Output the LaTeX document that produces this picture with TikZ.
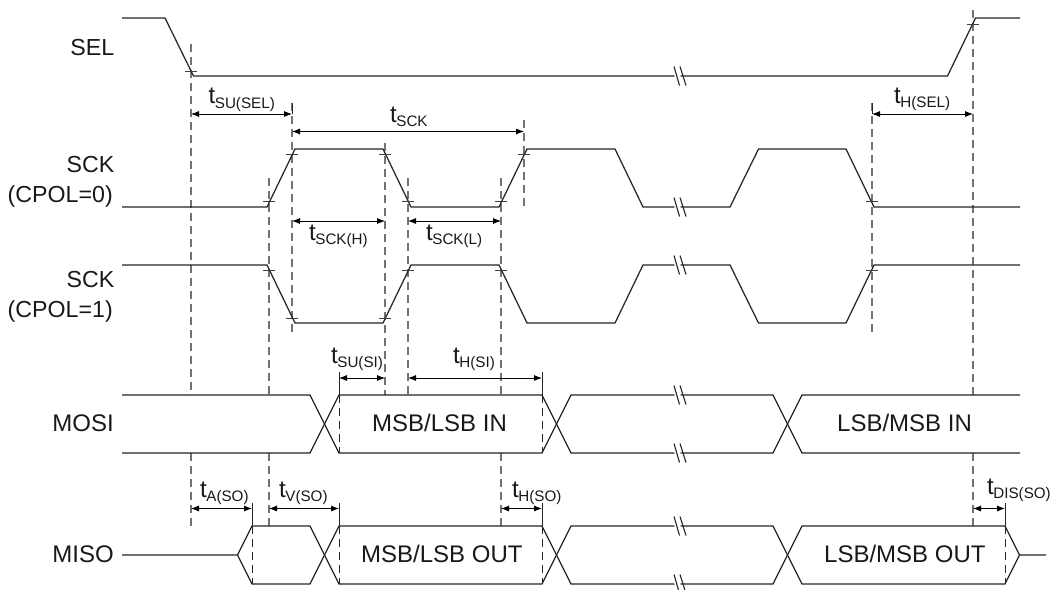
\documentclass[tikz,border=0pt]{standalone}
\usepackage{fontspec}
\setmainfont{Liberation Sans}
\usetikzlibrary{arrows.meta}
\newcommand{\tsub}[1]{t\kern-0.5pt{\fontsize{15.2}{15.2}\selectfont\raisebox{-4.5pt}{#1}}}
\tikzset{
  sig/.style={line width=1.25pt,color=black!85,line join=miter},
  guide/.style={line width=1.1pt,color=black!55,dash pattern=on 8pt off 5pt},
  edgeguide/.style={line width=0.9pt,color=black!85,dash pattern=on 8pt off 5pt},
  thintick/.style={line width=0.7pt,color=black!75},
  dimline/.style={line width=0.8pt,black,{Latex[length=8pt,width=6pt]}-{Latex[length=8pt,width=6pt]}},
  lbl/.style={inner sep=0pt,font=\fontsize{24}{24}\selectfont,anchor=base west,text=black!90},
  signame/.style={inner sep=0pt,font=\fontsize{23.2}{24}\selectfont,anchor=base east,text=black!90},
  brk/.style={line width=1.1pt,color=black!85}
}
\newcommand{\brkmark}[2]{%
  \fill[white] (#1-6,#2-3) -- (#1+0,#2-3) -- (#1+1,#2+3) -- (#1-5,#2+3) -- cycle;
  \draw[brk] (#1-6,#2-9.5) -- (#1-0.5,#2+9.5);
  \draw[brk] (#1+0,#2-9.5) -- (#1+6,#2+9.5);}
\begin{document}
\begin{tikzpicture}[x=1pt,y=-1pt]
\useasboundingbox (0,0) rectangle (1056,589);
\fill[white] (0,0) rectangle (1056,589);

% grey guides
\foreach \x/\a/\b in {191/44/395,191/453/526,269/178/395,269/453/526,292/103/334,385/143/395,408/178/395,501/178/395,501/453/526,524/120/207,872/103/337,973/10/395,973/453/526}
  \draw[guide] (\x,\a) -- (\x,\b);
% short solid extenders above data edges
\foreach \x/\a/\b in {339/372/395,542/372/395,252/503/526,339/503/526,542/503/526,1005/503/526,292/103/114,872/103/114}
  \draw[line width=0.8pt,black!85] (\x,\a) -- (\x,\b);
% black dashed within data eyes
\foreach \x/\a/\b in {339/395/453,542/395/453,252/526/584,339/526/584,542/526/584,1005/526/584}
  \draw[edgeguide] (\x,\a) -- (\x,\b);

% waveforms
\draw[sig] (122,18) -- (165,18) -- (193.5,76) -- (947.5,76) -- (975.5,18) -- (1020,18);
\draw[sig] (122,207) -- (267,207) -- (295,149) -- (383,149) -- (411,207) -- (499,207) -- (527,149) -- (615,149) -- (643,207) -- (730,207) -- (758.5,149) -- (846,149) -- (874,207) -- (1020,207);
\draw[sig] (122,265) -- (267,265) -- (295,323) -- (383,323) -- (411,265) -- (499,265) -- (527,323) -- (615,323) -- (643,265) -- (730,265) -- (758.5,323) -- (846,323) -- (874,265) -- (1020,265);
\draw[sig] (122,395) -- (310,395) -- (339,453) -- (542,453) -- (571,395) -- (773,395) -- (802,453) -- (1020,453);
\draw[sig] (122,453) -- (310,453) -- (339,395) -- (542,395) -- (571,453) -- (773,453) -- (802,395) -- (1020,395);
\draw[sig] (122,555) -- (237.5,555) -- (252,526) -- (310,526) -- (339,584) -- (542,584) -- (571,526) -- (773,526) -- (802,584) -- (1005,584) -- (1019.5,555) -- (1046,555);
\draw[sig] (237.5,555) -- (252,584) -- (310,584) -- (339,526) -- (542,526) -- (571,584) -- (773,584) -- (802,526) -- (1005,526) -- (1019.5,555);

% horizontal crossing ticks
\foreach \x/\y in {191/71,973/24,292/154,385/154,524/154,269/201,408/201,501/201,872/201,269/270,408/270,501/270,872/270,292/318,385/318}
  \draw[thintick] (\x-6,\y) -- (\x+6,\y);

% break marks
\foreach \y in {76,207,265,395,453,526,584} { \brkmark{680}{\y} }

% dimension arrows
\foreach \a/\b/\y in {191/292/114,292/524/131.5,292/385/221,408/501/221,339/385/378,408/542/378,191/252/508.5,269/339/508.5,501/542/508.5,872/973/114,973/1005/508.5}
  \draw[dimline] (\a,\y) -- (\b,\y);

% signal names
\node[signame] (nsel) at (114.5,55) {SEL};
\node[signame] (nsck0) at (114.5,172) {SCK};
\node[signame] (ncpol0) at (113,202) {(CPOL=0)};
\node[signame] (nsck1) at (114.5,287) {SCK};
\node[signame] (ncpol1) at (113,317) {(CPOL=1)};
\node[signame,font=\fontsize{24}{24}\selectfont] (nmosi) at (114,431.5) {MOSI};
\node[signame,font=\fontsize{24}{24}\selectfont] (nmiso) at (114,562) {MISO};

% data labels
\node[lbl] (d1) at (372,431.5) {MSB/LSB IN};
\node[lbl] (d2) at (361,562) {MSB/LSB OUT};
\node[lbl] (d3) at (837,431.5) {LSB/MSB IN};
\node[lbl] (d4) at (824,562) {LSB/MSB OUT};

% timing labels
\node[lbl] (t1) at (208.5,103.5) {\tsub{SU(SEL)}};
\node[lbl] (t2) at (390,122) {\tsub{SCK}};
\node[lbl] (t3) at (309,240) {\tsub{SCK(H)}};
\node[lbl] (t4) at (426,240) {\tsub{SCK(L)}};
\node[lbl] (t5) at (331,363) {\tsub{SU(SI)}};
\node[lbl] (t6) at (453,363) {\tsub{H(SI)}};
\node[lbl] (t7) at (200,497) {\tsub{A(SO)}};
\node[lbl] (t8) at (279,497) {\tsub{V(SO)}};
\node[lbl] (t9) at (512,497) {\tsub{H(SO)}};
\node[lbl] (t10) at (894,103) {\tsub{H(SEL)}};
\node[lbl] (t11) at (987,494) {\tsub{DIS(SO)}};
\end{tikzpicture}
\end{document}
